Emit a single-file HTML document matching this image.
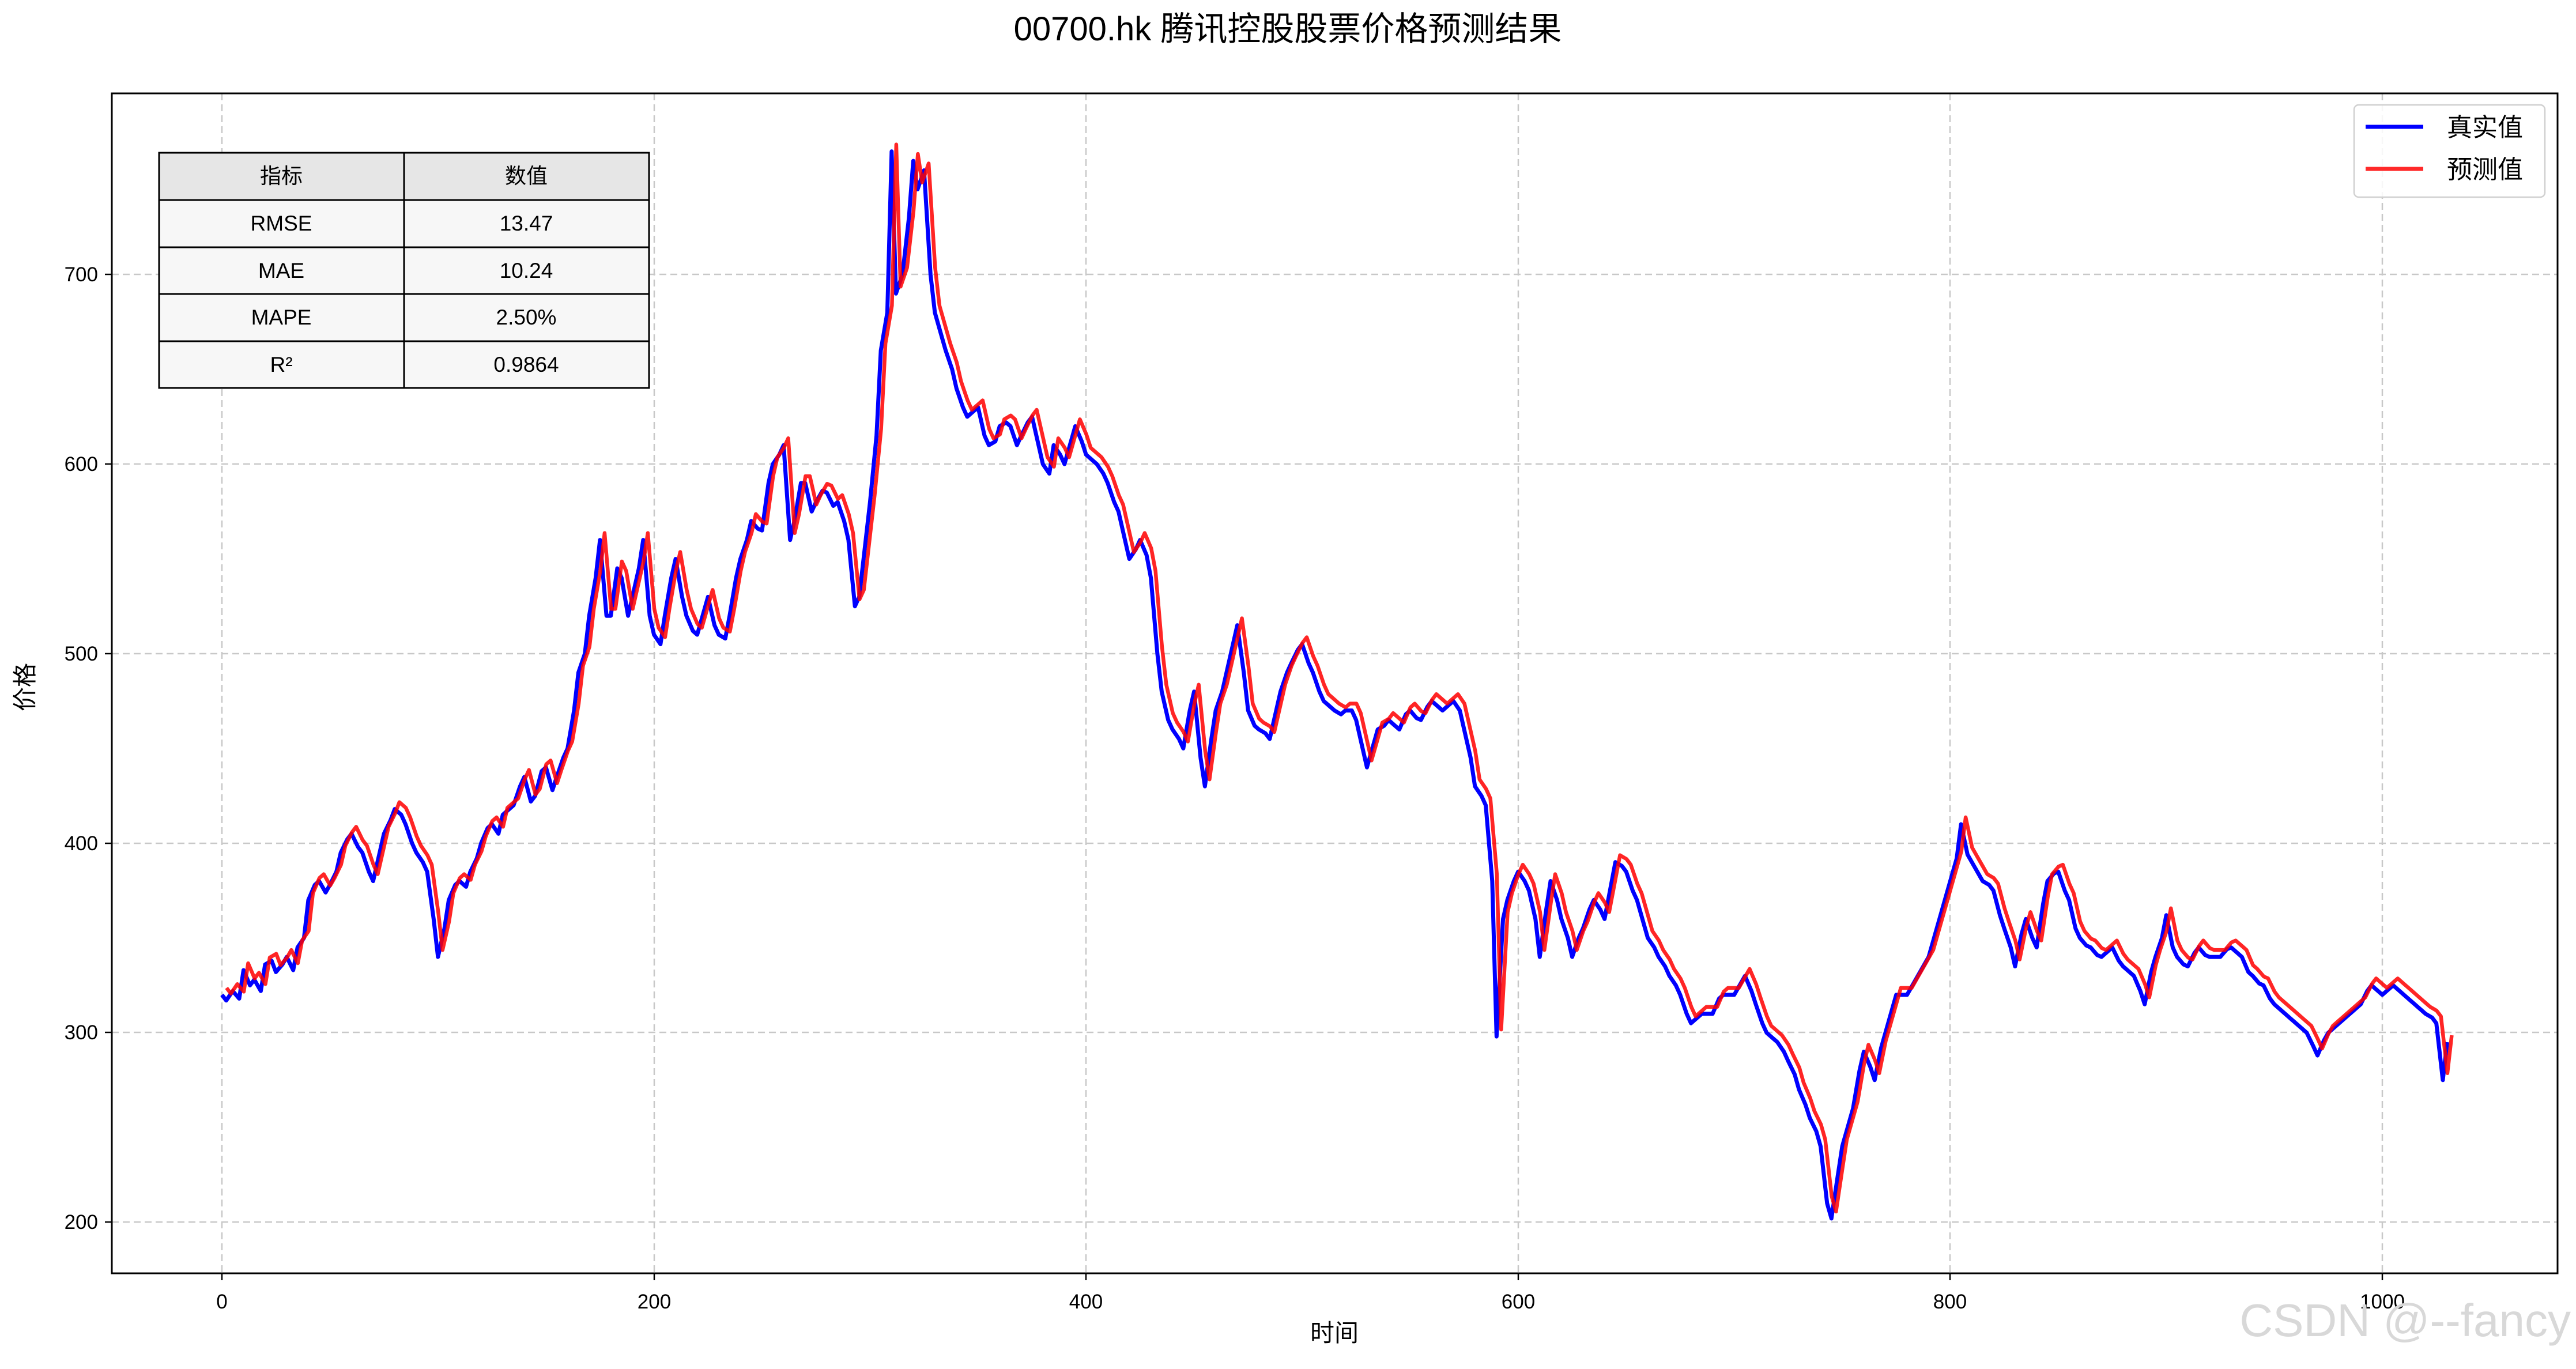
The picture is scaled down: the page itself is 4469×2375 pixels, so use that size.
<!DOCTYPE html>
<html><head><meta charset="utf-8"><style>
html,body{margin:0;padding:0;background:#fff;}
svg text{font-family:"Liberation Sans","Noto Sans CJK SC",sans-serif;}
</style></head><body>
<svg width="4469" height="2370" viewBox="0 0 4469 2370" xmlns="http://www.w3.org/2000/svg">
<rect width="4469" height="2370" fill="#fff"/>
<text x="2234" y="70" font-size="58" text-anchor="middle" fill="#000">00700.hk 腾讯控股股票价格预测结果</text>
<g stroke="#c8c8c8" stroke-width="2.5" stroke-dasharray="12,7">
<line x1="385" y1="162" x2="385" y2="2209"/><line x1="1135" y1="162" x2="1135" y2="2209"/><line x1="1884" y1="162" x2="1884" y2="2209"/><line x1="2634" y1="162" x2="2634" y2="2209"/><line x1="3383" y1="162" x2="3383" y2="2209"/><line x1="4133" y1="162" x2="4133" y2="2209"/>
<line x1="194" y1="2120" x2="4437" y2="2120"/><line x1="194" y1="1791" x2="4437" y2="1791"/><line x1="194" y1="1463" x2="4437" y2="1463"/><line x1="194" y1="1134" x2="4437" y2="1134"/><line x1="194" y1="805" x2="4437" y2="805"/><line x1="194" y1="476" x2="4437" y2="476"/>
</g>
<g stroke="#000" stroke-width="2.5">
<line x1="385" y1="2209" x2="385" y2="2221"/><line x1="1135" y1="2209" x2="1135" y2="2221"/><line x1="1884" y1="2209" x2="1884" y2="2221"/><line x1="2634" y1="2209" x2="2634" y2="2221"/><line x1="3383" y1="2209" x2="3383" y2="2221"/><line x1="4133" y1="2209" x2="4133" y2="2221"/>
<line x1="182" y1="2120" x2="194" y2="2120"/><line x1="182" y1="1791" x2="194" y2="1791"/><line x1="182" y1="1463" x2="194" y2="1463"/><line x1="182" y1="1134" x2="194" y2="1134"/><line x1="182" y1="805" x2="194" y2="805"/><line x1="182" y1="476" x2="194" y2="476"/>
</g>
<g font-size="35" fill="#000" text-anchor="middle">
<text x="385" y="2270">0</text><text x="1135" y="2270">200</text><text x="1884" y="2270">400</text><text x="2634" y="2270">600</text><text x="3383" y="2270">800</text><text x="4133" y="2270">1000</text>
</g>
<g font-size="35" fill="#000" text-anchor="end">
<text x="170" y="2132">200</text><text x="170" y="1803">300</text><text x="170" y="1475">400</text><text x="170" y="1146">500</text><text x="170" y="817">600</text><text x="170" y="488">700</text>
</g>
<text x="2315" y="2327" font-size="42" text-anchor="middle">时间</text>
<text x="58" y="1192" font-size="42" text-anchor="middle" transform="rotate(-90 58 1192)">价格</text>
<defs>
<polyline id="s" fill="none" vector-effect="non-scaling-stroke" stroke-linejoin="round" points="0,320 2,317 5,322 8,318 10,333 13,325 15,328 18,322 20,336 23,338 25,332 28,336 30,340 33,333 35,345 38,350 40,370 43,378 45,380 48,374 50,378 53,385 55,395 58,402 60,405 63,398 65,395 68,385 70,380 73,395 75,405 78,412 80,418 83,415 85,410 88,400 90,395 93,390 95,385 98,360 100,340 103,355 105,370 108,378 110,380 113,377 115,385 118,392 120,400 123,408 125,410 128,405 130,415 133,418 135,420 138,430 140,435 143,422 145,425 148,438 150,440 153,428 155,435 158,445 160,450 163,470 165,490 168,500 170,520 173,540 175,560 178,520 180,520 183,545 185,540 188,520 190,530 193,545 195,560 198,520 200,510 203,505 205,520 208,540 210,550 213,530 215,520 218,512 220,510 223,522 225,530 228,515 230,510 233,508 235,520 238,540 240,550 243,560 245,570 248,566 250,565 253,590 255,600 258,605 260,610 263,560 265,570 268,590 270,590 273,575 275,580 278,586 280,585 283,578 285,580 288,570 290,560 293,525 295,530 298,560 300,580 303,615 305,660 308,680 310,765 312,690 315,700 318,730 320,760 322,745 325,755 328,700 330,680 333,668 335,660 338,650 340,640 343,630 345,625 348,628 350,630 353,615 355,610 358,612 360,620 363,622 365,620 368,610 370,615 373,622 375,625 378,610 380,600 383,595 385,610 388,605 390,600 393,612 395,620 398,612 400,605 403,602 405,600 408,595 410,590 413,580 415,575 418,560 420,550 423,555 425,560 428,552 430,540 433,500 435,480 438,465 440,460 443,455 445,450 448,470 450,480 453,445 455,430 458,455 460,470 463,480 465,490 468,505 470,515 473,490 475,470 478,462 480,460 483,458 485,455 488,470 490,480 493,490 495,495 498,502 500,505 503,495 505,490 508,480 510,475 513,472 515,470 518,468 520,470 523,470 525,465 528,450 530,440 533,452 535,460 538,462 540,465 543,462 545,460 548,468 550,470 553,466 555,465 558,472 560,475 563,472 565,470 568,473 570,475 573,470 575,460 578,445 580,430 583,425 585,420 588,380 590,298 593,360 595,370 598,380 600,385 603,380 605,375 608,360 610,340 613,365 615,380 618,370 620,360 623,350 625,340 628,350 630,355 633,365 635,370 638,365 640,360 643,378 645,390 648,388 650,385 653,375 655,370 658,358 660,350 663,345 665,340 668,335 670,330 673,325 675,320 678,310 680,305 683,308 685,310 688,310 690,310 693,318 695,320 698,320 700,320 703,326 705,330 708,322 710,315 713,305 715,300 718,297 720,295 723,290 725,285 728,278 730,270 733,262 735,255 738,248 740,240 743,210 745,202 748,225 750,240 753,252 755,260 758,280 760,290 763,282 765,275 768,292 770,300 773,312 775,320 778,320 780,320 783,326 785,330 788,336 790,340 793,352 795,360 798,372 800,380 803,392 805,410 808,394 810,390 813,384 815,380 818,378 820,375 823,362 825,355 828,345 830,335 833,352 835,360 838,350 840,345 843,368 845,380 848,384 850,385 853,375 855,370 858,355 860,350 863,346 865,345 868,341 870,340 873,343 875,345 878,338 880,335 883,332 885,330 888,322 890,315 893,332 895,340 898,350 900,362 903,345 905,340 908,336 910,335 913,342 915,345 918,341 920,340 923,340 925,340 928,344 930,345 933,342 935,340 938,332 940,330 943,326 945,325 948,318 950,315 953,312 955,310 958,307 960,305 963,302 965,300 968,293 970,288 973,296 975,300 978,303 980,305 983,308 985,310 988,313 990,315 993,322 995,325 998,322 1000,320 1003,323 1005,325 1008,322 1010,320 1013,317 1015,315 1018,312 1020,310 1023,308 1025,305 1027,285 1028,275 1030,295"/>
</defs>
<g transform="matrix(3.748 0 0 -3.288 385 2778)">
<use href="#s" stroke="#0000ff" stroke-width="7"/>
</g>
<g transform="matrix(3.748 0 0 -3.288 393 2766)" opacity="0.85">
<use href="#s" stroke="#ff0000" stroke-width="6.5"/>
</g>
<rect x="194" y="162" width="4243" height="2047" fill="none" stroke="#000" stroke-width="3"/>
<g font-size="37" text-anchor="middle" fill="#000">
<rect x="276" y="265" width="850" height="82" fill="#e6e6e6"/>
<rect x="276" y="347" width="850" height="326" fill="#f7f7f7"/>
<g stroke="#000" stroke-width="3" fill="none">
<rect x="276" y="265" width="850" height="408"/>
<line x1="701" y1="265" x2="701" y2="673"/>
<line x1="276" y1="347" x2="1126" y2="347"/><line x1="276" y1="429" x2="1126" y2="429"/><line x1="276" y1="510" x2="1126" y2="510"/><line x1="276" y1="592" x2="1126" y2="592"/>
</g>
<text x="488" y="318">指标</text><text x="913" y="318">数值</text>
<text x="488" y="400">RMSE</text><text x="913" y="400">13.47</text>
<text x="488" y="482">MAE</text><text x="913" y="482">10.24</text>
<text x="488" y="563">MAPE</text><text x="913" y="563">2.50%</text>
<text x="488" y="645">R²</text><text x="913" y="645">0.9864</text>
</g>
<rect x="4084" y="182" width="331" height="160" rx="8" fill="#fff" fill-opacity="0.85" stroke="#d0d0d0" stroke-width="2.5"/>
<line x1="4104" y1="220" x2="4204" y2="220" stroke="#0000ff" stroke-width="7"/>
<line x1="4104" y1="293" x2="4204" y2="293" stroke="#ff2a2a" stroke-width="7"/>
<text x="4245" y="236" font-size="44">真实值</text>
<text x="4245" y="309" font-size="44">预测值</text>
<text x="4460" y="2318" font-size="80" text-anchor="end" fill="#d8d8d8">CSDN @--fancy</text>
</svg>
</body></html>
